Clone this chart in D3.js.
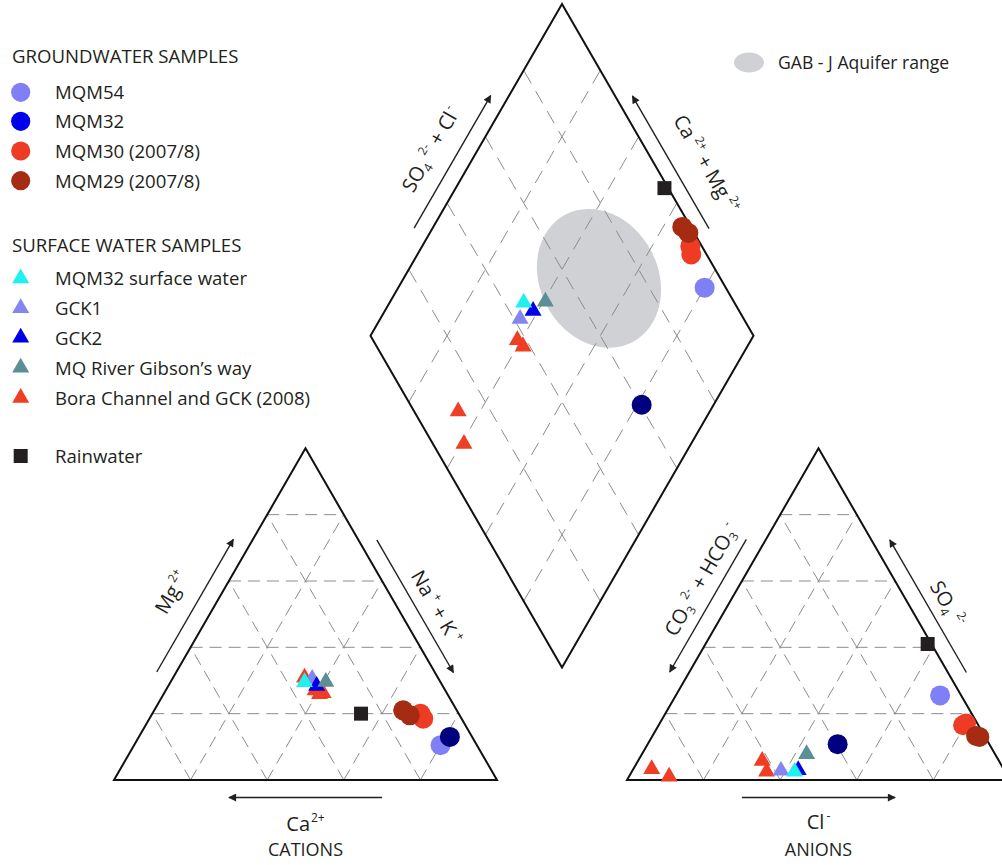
<!DOCTYPE html>
<html>
<head>
<meta charset="utf-8">
<script src="https://cdn.jsdelivr.net/npm/d3@7"></script>
<style>
  html, body { margin: 0; padding: 0; background: #fff; }
  svg { display: block; font-family: "Open Sans", "Noto Sans", sans-serif; }
  text { white-space: pre; fill: #231f20; }
</style>
</head>
<body>
<svg id="chart" width="1002" height="865"></svg>
<script>
// ---------------- Data ----------------
// Legend series
const seriesNames = ["MQM54", "MQM32", "MQM30 (2007/8)", "MQM29 (2007/8)",
  "MQM32 surface water", "GCK1", "GCK2", "MQ River Gibson\u2019s way",
  "Bora Channel and GCK (2008)", "Rainwater"];
const seriesShape = ["circle", "circle", "circle", "circle",
  "triangle", "triangle", "triangle", "triangle", "triangle", "square"];
const groupTitles = ["GROUNDWATER SAMPLES", "SURFACE WATER SAMPLES"];

// One entry per sample, in drawing order
const sampleSeries = [8, 8, 8, 8, 5, 6, 4, 7, 0, 1, 2, 2, 3, 3, 9];
// Cations, % meq
const caPct   = [34, 32.3, 34.8, 33.4, 33, 32.9, 35.5, 29.9, 9.5, 5.8, 10, 10, 14, 13, 25.5];
const mgPct   = [27, 26.2, 30.9, 25.9, 30.5, 28.4, 29.5, 29.6, 10.5, 13, 20, 18.5, 21, 19.5, 20];
const naKPct  = [39, 41.5, 34.3, 40.7, 36.5, 38.7, 35, 40.5, 80, 81.2, 70, 71.5, 65, 67.5, 54.5];
// Anions, % meq
const clPct   = [35.2, 32.4, 10.5, 4.8, 38.8, 43.2, 42.5, 43, 69, 49.6, 80, 79.5, 84.5, 85.5, 58];
const so4Pct  = [2.5, 5.8, 1, 3.3, 2.8, 3, 2.5, 7.8, 25.5, 10.8, 17, 16.5, 13.3, 13, 41];
const hco3Pct = [62.3, 61.8, 88.5, 91.9, 58.4, 53.8, 55, 49.2, 5.5, 39.6, 3, 4, 2.2, 1.5, 1];

// GAB - J aquifer range, centre in diamond coordinates (% Ca+Mg, % Cl+SO4)
const gabCaMg = 49;
const gabClSO4 = 68.3;

// Grid levels (%)
const gridLevels = [20, 40, 60, 80];

// ---------------- Styles ----------------
const legendFill = ["#8080f6", "#0000ee", "#ee3b24", "#a62b13",
  "#1ff1f1", "#8585f0", "#0000e6", "#5a8f96", "#ef3e24", "#231f20"];
const plotFill = legendFill.slice();
plotFill[1] = "#01017f";
const gabFill = "#cfd1d4";

// ---------------- Geometry ----------------
const svg = d3.select("#chart");
svg.append("rect").attr("width", 1002).attr("height", 865).attr("fill", "#fff");

const side = 383;
const triH = side * Math.sqrt(3) / 2;
const baseY = 780;
const catLeft = 114;
const gap = 130;
const anLeft = catLeft + side + gap;

const catX = d3.scaleLinear().domain([0, 100]).range([catLeft, catLeft + side]);
const anX = d3.scaleLinear().domain([0, 100]).range([anLeft, anLeft + side]);
const triY = d3.scaleLinear().domain([0, 100]).range([baseY, baseY - triH]);
const dmBottom = { x: catLeft + side + gap / 2, y: baseY - gap / 2 * Math.sqrt(3) };
const dmX = d3.scaleLinear().domain([-100, 100]).range([dmBottom.x - side / 2, dmBottom.x + side / 2]);
const dmY = d3.scaleLinear().domain([0, 200]).range([dmBottom.y, dmBottom.y - 2 * triH]);

const catPt = (mg, na) => [catX(na + mg / 2), triY(mg)];
const anPt = (so4, cl) => [anX(cl + so4 / 2), triY(so4)];
const dmPt = (caMg, clSo4) => [dmX(clSo4 - caMg), dmY(caMg + clSo4)];

// vertices
const cL = catPt(0, 0), cR = catPt(0, 100), cA = catPt(100, 0);
const aL = anPt(0, 0), aR = anPt(0, 100), aA = anPt(100, 0);
const dB = dmPt(0, 0), dL = dmPt(100, 0), dT = dmPt(100, 100), dR = dmPt(0, 100);

const line = d3.line();

// ---------------- GAB range ----------------
const gabC = dmPt(gabCaMg, gabClSO4);
svg.append("ellipse")
  .attr("cx", 0).attr("cy", 0).attr("rx", 59).attr("ry", 72)
  .attr("transform", `translate(${gabC[0]},${gabC[1]}) rotate(-28)`)
  .attr("fill", gabFill);

// ---------------- Grid ----------------
const gridG = svg.append("g")
  .attr("fill", "none").attr("stroke", "#8c8c8c").attr("stroke-width", 1);

const triSegs = [];
gridLevels.forEach(k => {
  // cations
  triSegs.push([catPt(k, 0), catPt(k, 100 - k)]);          // Mg = k
  triSegs.push([catPt(0, k), catPt(100 - k, k)]);          // Na+K = k
  triSegs.push([catPt(0, 100 - k), catPt(100 - k, 0)]);    // Ca = k
  // anions
  triSegs.push([anPt(k, 0), anPt(k, 100 - k)]);            // SO4 = k
  triSegs.push([anPt(0, k), anPt(100 - k, k)]);            // Cl = k
  triSegs.push([anPt(0, 100 - k), anPt(100 - k, 0)]);      // HCO3 = k
});
gridG.selectAll("path.tri").data(triSegs).join("path")
  .attr("class", "tri").attr("d", d => line(d))
  .attr("stroke-dasharray", "12,7");

const dmSegs = [];
gridLevels.forEach(k => {
  dmSegs.push([dmPt(k, 0), dmPt(k, 100)]);
  dmSegs.push([dmPt(0, k), dmPt(100, k)]);
});
gridG.selectAll("path.dm").data(dmSegs).join("path")
  .attr("class", "dm").attr("d", d => line(d))
  .attr("stroke-dasharray", "14,9");

// ---------------- Outlines ----------------
const outlineG = svg.append("g")
  .attr("fill", "none").attr("stroke", "#111").attr("stroke-width", 2)
  .attr("stroke-linejoin", "miter");
[[cL, cA, cR], [aL, aA, aR], [dB, dL, dT, dR]].forEach(poly => {
  outlineG.append("path").attr("d", line(poly) + "Z");
});

// ---------------- Axis arrows and labels ----------------
const defs = svg.append("defs");
defs.append("marker").attr("id", "arrowHead")
  .attr("viewBox", "0 0 10 10").attr("refX", 9).attr("refY", 5)
  .attr("markerWidth", 10).attr("markerHeight", 8).attr("markerUnits", "userSpaceOnUse")
  .attr("orient", "auto")
  .append("path").attr("d", "M0,0L10,5L0,10Z").attr("fill", "#231f20");

function edgePoint(p0, p1, t, d) {
  const dx = p1[0] - p0[0], dy = p1[1] - p0[1];
  const len = Math.hypot(dx, dy);
  // outward normal: the side facing up, away from the shape
  let nx = dy / len, ny = -dx / len;
  if (ny > 0) { nx = -nx; ny = -ny; }
  return [p0[0] + dx * t + nx * d, p0[1] + dy * t + ny * d];
}

const axisG = svg.append("g");
function arrow(p0, p1, tFrom, tTo, d) {
  const a = edgePoint(p0, p1, tFrom, d), b = edgePoint(p0, p1, tTo, d);
  axisG.append("path").attr("d", line([a, b]))
    .attr("stroke", "#231f20").attr("stroke-width", 1.4).attr("fill", "none")
    .attr("marker-end", "url(#arrowHead)");
}

function richText(g, parts, size) {
  const t = g.append("text").attr("font-size", size).attr("text-anchor", "middle");
  let shift = 0;
  parts.forEach(([str, kind, dx]) => {
    const target = kind === "sup" ? -9 : kind === "sub" ? 4 : 0;
    const ts = t.append("tspan").text(str).attr("dy", target - shift);
    if (dx) ts.attr("dx", dx);
    if (kind !== "n") ts.attr("font-size", 12);
    shift = target;
  });
  return t;
}

function edgeLabel(p0, p1, t, d, angle, parts) {
  const p = edgePoint(p0, p1, t, d);
  const g = axisG.append("g").attr("transform", `translate(${p[0]},${p[1]}) rotate(${angle})`);
  richText(g, parts, 20);
}

// cation triangle
arrow(cL, cA, 0.3, 0.7, 17);
arrow(cA, cR, 0.3, 0.7, 16);
arrow(cL, cR, 0.7, 0.3, -17.5);
edgeLabel(cL, cA, 0.5, 37, -60, [["Mg", "n"], ["2+", "sup", 3]]);
edgeLabel(cA, cR, 0.53, 27, 60, [["Na", "n"], ["+", "sup", 3], [" + K", "n"], ["+", "sup", 4]]);
richText(axisG.append("g").attr("transform", `translate(${(cL[0] + cR[0]) / 2},831)`),
  [["Ca", "n"], ["2+", "sup", 1]], 20);
axisG.append("text").attr("x", (cL[0] + cR[0]) / 2).attr("y", 856)
  .attr("text-anchor", "middle").attr("font-size", 18).text("CATIONS");

// anion triangle
arrow(aL, aA, 0.7, 0.3, 17);
arrow(aA, aR, 0.7, 0.3, 16);
arrow(aL, aR, 0.3, 0.7, -17.5);
edgeLabel(aL, aA, 0.55, 29, -60, [["CO", "n"], ["3", "sub"], ["2-", "sup", 3], [" + HCO", "n"], ["3", "sub"], ["-", "sup", 2]]);
edgeLabel(aA, aR, 0.52, 27, 60, [["SO", "n"], ["4", "sub"], ["2-", "sup", 5]]);
richText(axisG.append("g").attr("transform", `translate(${(aL[0] + aR[0]) / 2},829)`),
  [["Cl", "n"], ["-", "sup", 2]], 20);
axisG.append("text").attr("x", (aL[0] + aR[0]) / 2).attr("y", 856)
  .attr("text-anchor", "middle").attr("font-size", 18).text("ANIONS");

// diamond
arrow(dL, dT, 0.3, 0.7, 16);
arrow(dT, dR, 0.7, 0.3, 15);
edgeLabel(dL, dT, 0.5, 34, -60, [["SO", "n"], ["4", "sub"], ["2-", "sup", 5], [" + Cl", "n"], ["-", "sup", 2]]);
edgeLabel(dT, dR, 0.55, 38, 60, [["Ca", "n"], ["2+", "sup", 4], [" + Mg", "n"], ["2+", "sup", 4]]);

// ---------------- Samples ----------------
const triSym = d3.symbol(d3.symbolTriangle, 125)();
const sqSym = d3.symbol(d3.symbolSquare, 196)();

function drawMarker(g, shape, fill, x, y, r) {
  if (shape === "circle") {
    g.append("circle").attr("cx", x).attr("cy", y).attr("r", r).attr("fill", fill);
  } else {
    g.append("path").attr("d", shape === "triangle" ? triSym : sqSym)
      .attr("transform", `translate(${x},${y})`).attr("fill", fill);
  }
}

const markG = svg.append("g");
sampleSeries.forEach((s, i) => {
  const shape = seriesShape[s], fill = plotFill[s];
  const c = catPt(mgPct[i], naKPct[i]);
  const a = anPt(so4Pct[i], clPct[i]);
  const d = dmPt(caPct[i] + mgPct[i], clPct[i] + so4Pct[i]);
  [c, a, d].forEach(p => drawMarker(markG, shape, fill, p[0], p[1], 10));
});

// ---------------- Legend ----------------
const legG = svg.append("g").attr("font-size", 18.6);
const legendY = [92.3, 121.3, 151, 180.7, 278.3, 308, 337.5, 367.5, 397.8, 456];
const titleY = [63, 252];
groupTitles.forEach((t, gi) => {
  legG.append("text").attr("x", 12).attr("y", titleY[gi]).text(t);
});
seriesNames.forEach((name, s) => {
  const y = legendY[s];
  drawMarker(legG, seriesShape[s], legendFill[s], 20.7, y, 9.6);
  legG.append("text").attr("x", 55).attr("y", y + 7).text(name);
});

// GAB legend entry
legG.append("ellipse").attr("cx", 749).attr("cy", 62.5).attr("rx", 15).attr("ry", 10)
  .attr("fill", gabFill);
legG.append("text").attr("x", 778).attr("y", 69).attr("font-size", 17.6).text("GAB - J Aquifer range");
</script>
</body>
</html>
